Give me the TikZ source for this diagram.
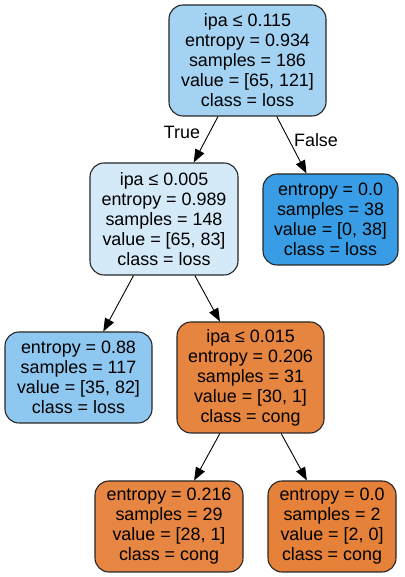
\documentclass[tikz,border=0pt]{standalone}
\usepackage{fontspec}
\setmainfont{Liberation Sans}
\usetikzlibrary{arrows.meta}
\definecolor{c0}{RGB}{163,210,243}
\definecolor{c1}{RGB}{212,234,249}
\definecolor{c2}{RGB}{57,157,229}
\definecolor{c3}{RGB}{142,199,240}
\definecolor{c4}{RGB}{230,133,64}
\definecolor{c5}{RGB}{230,134,66}
\definecolor{c6}{RGB}{229,129,57}
\begin{document}
\begin{tikzpicture}[x=1pt,y=1pt,
  tnode/.style={draw=black!85,line width=1.1pt,rounded corners=14pt,align=center,
    font=\fontsize{17.9}{20}\selectfont,inner sep=0pt},
  edge/.style={line width=0.9pt,-{Triangle[length=13pt,width=10pt]}},
  elab/.style={font=\fontsize{17.9}{20}\selectfont}]
\useasboundingbox (0,0) rectangle (404,577);
\node[tnode,fill=c0,minimum width=157pt,minimum height=111pt] (n0) at (247.5,516.5)
  {ipa ≤ 0.115\\entropy = 0.934\\samples = 186\\value = [65, 121]\\class = loss};
\node[tnode,fill=c1,minimum width=148pt,minimum height=112pt] (n1) at (164,358)
  {ipa ≤ 0.005\\entropy = 0.989\\samples = 148\\value = [65, 83]\\class = loss};
\node[tnode,fill=c2,minimum width=135pt,minimum height=91pt] (n2) at (330.5,357.5)
  {entropy = 0.0\\samples = 38\\value = [0, 38]\\class = loss};
\node[tnode,fill=c3,minimum width=147pt,minimum height=91pt] (n3) at (78.5,199.5)
  {entropy = 0.88\\samples = 117\\value = [35, 82]\\class = loss};
\node[tnode,fill=c4,minimum width=147pt,minimum height=111pt] (n4) at (250.5,199.5)
  {ipa ≤ 0.015\\entropy = 0.206\\samples = 31\\value = [30, 1]\\class = cong};
\node[tnode,fill=c5,minimum width=148pt,minimum height=91pt] (n5) at (169,50.5)
  {entropy = 0.216\\samples = 29\\value = [28, 1]\\class = cong};
\node[tnode,fill=c6,minimum width=128pt,minimum height=91pt] (n6) at (332,50.5)
  {entropy = 0.0\\samples = 2\\value = [2, 0]\\class = cong};
\draw[edge] (n0) -- (n1);
\draw[edge] (n0) -- (n2);
\draw[edge] (n1) -- (n3);
\draw[edge] (n1) -- (n4);
\draw[edge] (n4) -- (n5);
\draw[edge] (n4) -- (n6);
\node[elab] (lt) at (182,445) {True};
\node[elab] (lf) at (316,437) {False};
\end{tikzpicture}
\end{document}
